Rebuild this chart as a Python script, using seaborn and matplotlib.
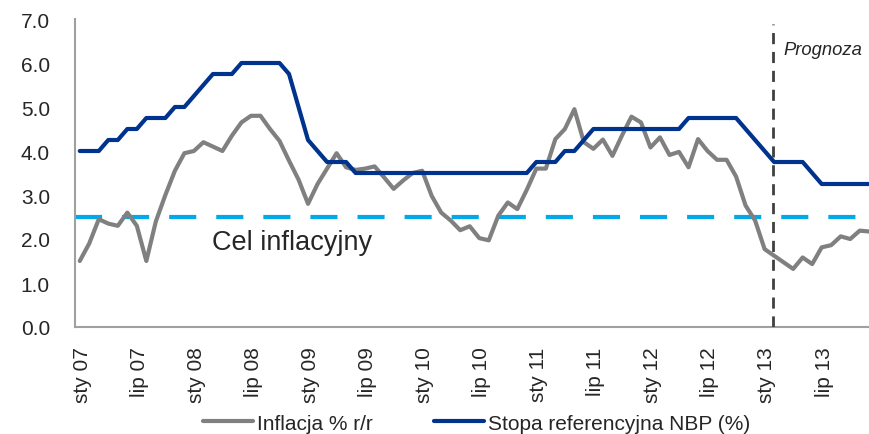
import numpy as np
import pandas as pd
import matplotlib
matplotlib.use("Agg")
import matplotlib.pyplot as plt
import seaborn as sns
from matplotlib import font_manager
from matplotlib.lines import Line2D

# ---- data -------------------------------------------------------------
months = pd.date_range("2007-01-01", "2013-12-01", freq="MS")
month_names = {1: "sty", 7: "lip"}

inflation = [
    1.5, 1.9, 2.45, 2.35, 2.3, 2.6, 2.3, 1.5, 2.4, 3.0, 3.55, 3.95,        # 2007
    4.0, 4.2, 4.1, 4.0, 4.35, 4.65, 4.8, 4.8, 4.5, 4.23, 3.78, 3.35,       # 2008
    2.8, 3.25, 3.6, 3.95, 3.63, 3.57, 3.6, 3.65, 3.4, 3.14, 3.33, 3.5,     # 2009
    3.55, 2.98, 2.6, 2.42, 2.2, 2.29, 2.02, 1.97, 2.53, 2.83, 2.68, 3.12,  # 2010
    3.6, 3.6, 4.27, 4.5, 4.95, 4.2, 4.05, 4.26, 3.89, 4.35, 4.78, 4.65,    # 2011
    4.08, 4.31, 3.91, 3.98, 3.63, 4.27, 4.0, 3.8, 3.8, 3.42, 2.76, 2.42,   # 2012
    1.77, 1.62, 1.47, 1.32, 1.58, 1.43, 1.81, 1.86, 2.06, 2.0, 2.19, 2.17, # 2013
]
ref_rate = [
    4.0, 4.0, 4.0, 4.25, 4.25, 4.5, 4.5, 4.75, 4.75, 4.75, 5.0, 5.0,
    5.25, 5.5, 5.75, 5.75, 5.75, 6.0, 6.0, 6.0, 6.0, 6.0, 5.75, 5.0,
    4.25, 4.0, 3.75, 3.75, 3.75, 3.5, 3.5, 3.5, 3.5, 3.5, 3.5, 3.5,
    3.5, 3.5, 3.5, 3.5, 3.5, 3.5, 3.5, 3.5, 3.5, 3.5, 3.5, 3.5,
    3.75, 3.75, 3.75, 4.0, 4.0, 4.25, 4.5, 4.5, 4.5, 4.5, 4.5, 4.5,
    4.5, 4.5, 4.5, 4.5, 4.75, 4.75, 4.75, 4.75, 4.75, 4.75, 4.5, 4.25,
    4.0, 3.75, 3.75, 3.75, 3.75, 3.5, 3.25, 3.25, 3.25, 3.25, 3.25, 3.25,
]
inflation_target = 2.5
forecast_start = "2013-02-01"

series_names = ["Inflacja % r/r", "Stopa referencyjna NBP (%)"]
target_label = "Cel inflacyjny"
forecast_label = "Prognoza"

# ---- styling ----------------------------------------------------------
sns.set_style("white")
names = {f.name for f in font_manager.fontManager.ttflist}
narrow = "Liberation Sans Narrow" if "Liberation Sans Narrow" in names else "Liberation Sans"
plt.rcParams["font.family"] = [narrow, "DejaVu Sans"]

gray = "#808080"
navy = "#00338D"
cyan = "#00A9E8"

pos = np.arange(len(months)) + 0.5  # category centres
df = pd.DataFrame({
    "pos": np.concatenate([pos, pos]),
    "value": inflation + ref_rate,
    "series": [series_names[0]] * len(pos) + [series_names[1]] * len(pos),
})

fig = plt.figure(figsize=(8.7, 4.35), dpi=100)
ax = fig.add_axes([75 / 870, 1 - 328 / 435, (874 - 75) / 870, (328 - 20) / 435])

sns.lineplot(data=df, x="pos", y="value", hue="series",
             palette=[gray, navy], linewidth=3.0, ax=ax, legend=False)

ax.axhline(inflation_target, color=cyan, linewidth=3.0,
           dashes=(6.5, 4.8), zorder=1)
fidx = list(months).index(pd.Timestamp(forecast_start))
ax.axvline(fidx + 0.4, ymax=(7.0 - 0.12) / 7.0, color="#404040",
           linewidth=2.0, dashes=(4, 2.8), zorder=3)

ax.text(14.4, 1.93, target_label, fontsize=19.5, ha="left", va="center")
ax.text(74.5, 6.3, forecast_label, fontsize=13.2, style="italic",
        ha="left", va="center")

ax.set_xlim(0, len(months))
ax.set_ylim(0, 7)
ax.set_yticks(np.arange(0, 7.01, 1.0))
ax.set_yticklabels([f"{v:.1f}" for v in np.arange(0, 7.01, 1.0)], fontsize=15)

major = [i for i, m in enumerate(months) if m.month in (1, 7)]
ax.set_xticks(major)
ax.set_xticklabels([])
ax.set_xticks([i + 0.75 for i in major], minor=True)
ax.set_xticklabels([f"{month_names[months[i].month]} {months[i].year % 100:02d}" for i in major],
                   minor=True, rotation=90, fontsize=15)
ax.tick_params(axis="x", which="major", length=7, width=1.5, color="#A0A0A0", direction="out")
ax.tick_params(axis="x", which="minor", length=0, pad=14)
ax.tick_params(axis="y", length=7, width=1.5, color="#A0A0A0", direction="out", pad=11)
ax.set_xlabel("")
ax.set_ylabel("")

for s in ["top", "right"]:
    ax.spines[s].set_visible(False)
for s in ["left", "bottom"]:
    ax.spines[s].set_color("#A0A0A0")
    ax.spines[s].set_linewidth(1.5)
ax.grid(False)

handles = [Line2D([], [], color=gray, linewidth=3.0),
           Line2D([], [], color=navy, linewidth=3.0)]
fig.legend(handles, series_names, loc="center", bbox_to_anchor=(0.548, 0.025),
           ncol=2, frameon=False, fontsize=15, handlelength=2.4,
           handletextpad=0.2, columnspacing=2.95)

fig.savefig("out.png", dpi=100)
